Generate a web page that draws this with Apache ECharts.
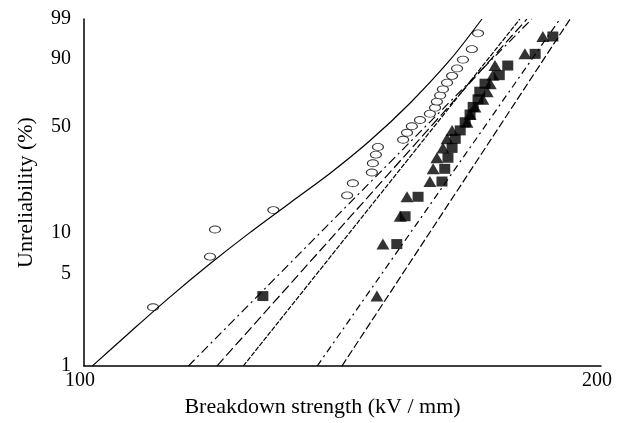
<!DOCTYPE html>
<html>
<head>
<meta charset="utf-8">
<script src="https://cdn.jsdelivr.net/npm/echarts@6/dist/echarts.min.js"></script>
<style>
  html, body { margin: 0; padding: 0; background: #fff; }
  #chart { width: 627px; height: 423px; }
</style>
</head>
<body>
<div id="chart"></div>
<script>
// breakdown strength (kV/mm) per rank, unreliability (%) per rank
const ranks25 = [2.8, 6.7, 10.6, 14.6, 18.5, 22.4, 26.4, 30.3, 34.3, 38.2, 42.1, 46.1, 50.0,
  53.9, 57.9, 61.8, 65.7, 69.7, 73.6, 77.6, 81.5, 85.4, 89.4, 93.3, 97.2];
const ranks20 = [3.4, 8.3, 13.2, 18.1, 23.0, 27.9, 32.8, 37.7, 42.6, 47.5,
  52.5, 57.4, 62.3, 67.2, 72.1, 77.0, 81.9, 86.8, 91.7, 96.6];

const circleKV = [109.7, 118.4, 119.2, 128.9, 142.3, 143.4, 147.1, 147.3, 147.9, 148.3, 153.4, 154.2, 155.2,
  156.9, 159.0, 160.1, 160.5, 161.2, 161.8, 162.7, 163.8, 164.9, 166.2, 168.2, 169.6];
const squareKV = [127.1, 152.1, 153.8, 156.5, 161.6, 162.2, 162.9, 163.8, 164.5, 165.6,
  166.7, 167.8, 168.5, 169.6, 170.0, 171.2, 174.5, 176.5, 183.1, 187.5];
const triangleKV = [148.1, 149.3, 152.8, 154.2, 159.0, 159.7, 160.5, 161.8, 162.7, 163.8,
  167.1, 167.8, 168.9, 170.7, 171.7, 172.4, 173.0, 173.5, 180.6, 185.0];

// fitted curve for the open circles
const curveKV = [101.1, 106.4, 112.2, 118.4, 124.9, 131.8, 139.1, 146.7, 154.8, 163.4, 170.5];
const curvePct = [1, 1.82, 3.34, 5.93, 10.06, 16.4, 26.1, 41.5, 64.7, 89.4, 99];

// straight Weibull fits: [kV at 1 %, kV at 99 %]
const fitA = [115.0, 182.3];
const fitB = [119.5, 181.1];
const fitC = [123.8, 179.4];
const fitD = [136.7, 189.3];
const fitE = [141.3, 191.9];

const yTicks = [1, 5, 10, 50, 90, 99];
const xTicks = [100, 200];

// weibull paper: x -> ln(kV), y -> ln(-ln(1-F))
function wx(v) { return Math.log(v); }
function wy(p) { return Math.log(-Math.log(1 - p / 100)); }
function unwy(w) { return (1 - Math.exp(-Math.exp(w))) * 100; }
function pts(xs, ps) { return xs.map((v, i) => [wx(v), wy(ps[i])]); }
function fit(f) { return [[wx(f[0]), wy(1)], [wx(f[1]), wy(99)]]; }

const font = 'Liberation Serif, Times New Roman, serif';
const myChart = echarts.init(document.getElementById('chart'));

function fitLine(f, dash) {
  return {
    type: 'line', data: fit(f), symbol: 'none', silent: true,
    lineStyle: { color: '#000', width: 1.2, type: dash }
  };
}

myChart.setOption({
  animation: false,
  grid: { left: 84, right: 26, top: 19, bottom: 53 },
  xAxis: {
    type: 'value',
    min: wx(100), max: wx(200),
    name: 'Breakdown strength (kV / mm)',
    nameLocation: 'middle',
    nameGap: 27,
    nameTextStyle: { fontFamily: font, fontSize: 22, color: '#000', padding: [0, 40, 0, 0] },
    axisLine: { onZero: false, lineStyle: { color: '#000', width: 1.5 } },
    axisTick: { show: false },
    splitLine: { show: false },
    axisLabel: {
      customValues: xTicks.map(wx),
      formatter: v => String(Math.round(Math.exp(v))),
      fontFamily: font, fontSize: 20, color: '#000', margin: 5, padding: [0, 8, 0, 0]
    }
  },
  yAxis: {
    type: 'value',
    min: wy(1), max: wy(99),
    name: 'Unreliability (%)',
    nameLocation: 'middle',
    nameGap: 47,
    nameTextStyle: { fontFamily: font, fontSize: 22, color: '#000' },
    axisLine: { show: true, onZero: false, lineStyle: { color: '#000', width: 1.5 } },
    axisTick: { show: false },
    splitLine: { show: false },
    axisLabel: {
      customValues: yTicks.map(wy),
      formatter: v => String(Math.round(unwy(v))),
      fontFamily: font, fontSize: 20, color: '#000', margin: 13
    }
  },
  series: [
    {
      type: 'line', data: pts(curveKV, curvePct), symbol: 'none', smooth: 0.3,
      silent: true, lineStyle: { color: '#000', width: 1.2 }
    },
    fitLine(fitA, [9, 4, 2, 4]),
    fitLine(fitB, [10, 4]),
    fitLine(fitC, [5, 1.5]),
    fitLine(fitD, [7, 4, 2, 4]),
    fitLine(fitE, [8, 3]),
    {
      type: 'scatter', data: pts(circleKV, ranks25), symbol: 'circle', symbolSize: [11, 7],
      itemStyle: { color: '#fff', borderColor: '#000', borderWidth: 1 }
    },
    {
      type: 'scatter', data: pts(squareKV, ranks20), symbol: 'rect', symbolSize: [11, 10],
      itemStyle: { color: '#000' }
    },
    {
      type: 'scatter', data: pts(triangleKV, ranks20), symbol: 'triangle', symbolSize: [13, 11],
      itemStyle: { color: '#000' }
    }
  ]
});
</script>
</body>
</html>
